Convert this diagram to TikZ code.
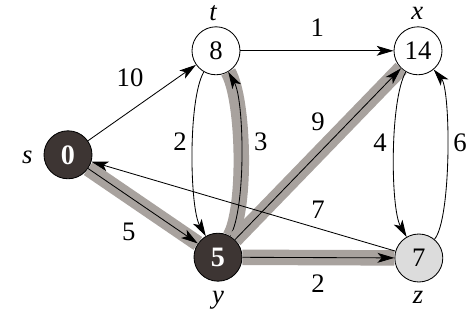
\documentclass[tikz,border=0pt]{standalone}
\usepackage{fontspec}
\setmainfont{Liberation Serif}
\usetikzlibrary{arrows.meta}
\definecolor{vdark}{HTML}{3D3533}
\definecolor{vlight}{HTML}{DCDCDC}
\definecolor{band}{HTML}{A8A29E}
\begin{document}
\begin{tikzpicture}[
        font=\fontsize{19}{23}\selectfont,
        vtx/.style={circle, draw, line width=0.6pt, fill=white, minimum size=1.2cm, inner sep=0pt},
        dark/.style={vtx, fill=vdark, text=white, font=\fontsize{20}{24}\selectfont\bfseries},
        light/.style={vtx, fill=vlight},
        vname/.style={font=\fontsize{19}{23}\selectfont\itshape, inner sep=0pt},
        arc/.style={-{Stealth[length=12pt, width=7pt, inset=3pt]}, line width=0.6pt},
        best/.style={arc, preaction={draw, band, line width=11pt, -}}
    ]
    \useasboundingbox (0,0) rectangle (11.8,8.05);
    % Vértices
    \node[dark]  (s) at (1.70, 4.18) {0};
    \node[vtx]   (t) at (5.40, 6.78) {8};
    \node[vtx]   (x) at (10.45, 6.78) {14};
    \node[dark]  (y) at (5.45, 1.62) {5};
    \node[light] (z) at (10.47, 1.60) {7};
    % Nombres
    \node[vname] (ns) at (0.68, 4.12) {s};
    \node[vname] (nt) at (5.33, 7.72) {t};
    \node[vname] (nx) at (10.43, 7.72) {x};
    \node[vname] (ny) at (5.45, 0.55) {y};
    \node[vname] (nz) at (10.45, 0.62) {z};
    % Aristas del árbol de caminos mínimos
    \draw[best] (s) -- (y);
    \draw[best] (y) to[out=60, in=-60, looseness=0.5] (t);
    \draw[best] (y) -- (x);
    \draw[best] (y) -- (z);
    % Resto de aristas
    \draw[arc] (s) -- (t);
    \draw[arc] (t) -- (x);
    \draw[arc] (t) to[out=-120, in=120, looseness=0.5] (y);
    \draw[arc] (x) to[out=-120, in=120, looseness=0.5] (z);
    \draw[arc] (z) to[out=50, in=-50, looseness=0.4] (x);
    \draw[arc] (z) -- (s);
    % Pesos
    \node (w1) at (3.25, 6.10) {10};
    \node (w2) at (7.93, 7.35) {1};
    \node (w3) at (4.50, 4.50) {2};
    \node (w4) at (6.52, 4.50) {3};
    \node (w5) at (7.95, 5.00) {9};
    \node (w6) at (9.50, 4.48) {4};
    \node (w7) at (11.50, 4.48) {6};
    \node (w8) at (3.22, 2.25) {5};
    \node (w9) at (7.95, 2.80) {7};
    \node (w10) at (7.95, 0.97) {2};
\end{tikzpicture}
\end{document}
